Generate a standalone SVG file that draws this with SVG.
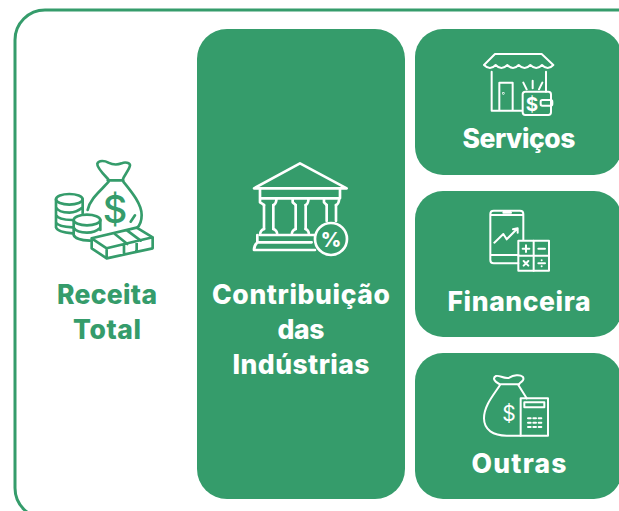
<svg xmlns="http://www.w3.org/2000/svg" width="619" height="511" viewBox="0 0 619 511">
<style>
.card{fill:#359c6b}
.lbl{font-family:"Inter","Liberation Sans",sans-serif;font-weight:800;font-size:26.5px;text-anchor:middle}
.w{fill:#fff}.g{fill:#359c6b}
.ic{fill:none;stroke-linecap:round;stroke-linejoin:round}
.iw{stroke:#fff}.ig{stroke:#359c6b}
.sym{font-family:"Inter","Liberation Sans",sans-serif;text-anchor:middle}
</style>
<rect width="619" height="511" fill="#fff"/>
<rect id="frame" x="15" y="10" width="640" height="508" rx="30" fill="none" stroke="#359c6b" stroke-width="3"/>

<g id="receita">
<g class="ic ig" stroke-width="8" transform="translate(40 150) scale(.3333)">
<path d="M205 88C190 72 170 52 172 41C176 30 195 32 205 38Q225 48 245 40C255 35 270 38 270 46C268 60 252 75 248 90M203 91H250"/>
<path d="M206 95C185 120 150 145 143 180M250 95C270 120 305 160 305 195C305 215 298 228 290 235M285 196L272 215"/>
<ellipse cx="88" cy="148" rx="40" ry="16"/>
<path d="M48 148V232Q52 246 98 250M128 148V190M48 172Q55 188 88 188Q110 188 128 172M48 195Q55 209 96 210M48 218Q55 230 98 232"/>
<ellipse cx="141" cy="210" rx="40" ry="16"/>
<path d="M101 210V255Q106 270 150 272M181 210V240M101 233Q110 248 141 248Q165 248 181 233"/>
<path d="M155 265L290 233L338 262L200 295ZM155 265V295L200 325L338 295V262M200 295V325M222 250L262 282M262 242L302 272M252 284V314M290 274V304" fill="#fff"/>
</g>
<text class="sym" x="115" y="223" font-size="38" font-weight="500" fill="#359c6b">$</text>
<text class="lbl g" x="107" y="304" textLength="100">Receita</text>
<text class="lbl g" x="107" y="339" textLength="68">Total</text>
</g>

<g id="contribuicao">
<rect class="card" x="197" y="29" width="208" height="470" rx="30"/>
<g class="ic iw" stroke-width="8" transform="translate(240 155) scale(.3333)">
<path d="M42 100L180 25L320 100ZM60 104V130H300V104M60 130V142Q70 148 72 150M100 150Q108 148 110 130M158 130V142Q166 148 167 150M197 150Q204 148 206 130M252 130V142Q258 148 260 150M288 150Q296 148 298 130"/>
<path d="M72 150V222M100 150V222M167 150V222M197 150V222M260 150V198M288 150V198"/>
<path d="M72 222Q60 226 60 240H112Q112 226 100 222M167 222Q155 226 155 240H207Q207 226 197 222M112 240H155M60 240H225M52 262H215M52 240V262M42 285H225M52 262Q42 272 42 285"/>
<circle cx="273" cy="252" r="48"/>
</g>
<text class="sym" x="331" y="247" font-size="20" font-weight="800" fill="#fff">%</text>
<text class="lbl w" x="301" y="304" textLength="178">Contribuição</text>
<text class="lbl w" x="301" y="339" textLength="47">das</text>
<text class="lbl w" x="301" y="374" textLength="137">Indústrias</text>
</g>

<g id="servicos">
<rect class="card" x="415" y="29" width="207" height="146" rx="28"/>
<g class="ic iw" stroke-width="6" transform="translate(470 40) scale(.3333)">
<path d="M75 42H215L250 75Q233 93 216 75Q199 93 181 75Q164 93 146 75Q129 93 112 75Q94 93 77 75Q60 93 42 75Z"/>
<path d="M65 95V212H155M228 95V155M88 212V128H128V212M160 128L170 148M188 122V145M217 128L207 148"/>
<rect x="158" y="155" width="85" height="70" rx="8"/>
<rect x="212" y="180" width="35" height="17" rx="5"/>
<circle cx="100" cy="160" r="1"/>
</g>
<text class="sym" x="532" y="111" font-size="19" font-weight="700" fill="#fff">$</text>
<text class="lbl w" x="519" y="148" textLength="113">Serviços</text>
</g>

<g id="financeira">
<rect class="card" x="415" y="191" width="207" height="146" rx="28"/>
<g class="ic iw" stroke-width="6" transform="translate(475 200) scale(.3333)">
<path d="M130 190H56Q46 190 46 180V42Q46 32 56 32H135Q145 32 145 42V120M50 45H142M85 38H108M50 165H130M58 128L85 102L95 118L125 88M114 88L128 85V98"/>
<rect x="130" y="122" width="92" height="90"/>
<path d="M176 122V212M130 167H222M143 146H163M153 136V156M190 146H210M146 183L160 197M160 183L146 197M190 190H210M200 181V181M200 199V199"/>
</g>
<text class="lbl w" x="519" y="311" textLength="143">Financeira</text>
</g>

<g id="outras">
<rect class="card" x="415" y="353" width="207" height="146" rx="28"/>
<g class="ic iw" stroke-width="6" transform="translate(470 365) scale(.3333)">
<path d="M90 58C70 48 68 38 78 33C90 30 100 42 118 38C130 30 150 28 158 35C165 45 155 50 145 58M88 58H148M90 60C75 85 42 120 42 160C42 195 70 212 110 212H152M145 60L170 100"/>
<rect x="152" y="100" width="82" height="112"/>
<rect x="163" y="112" width="60" height="15"/>
<path d="M174 160H182M190 160H198M206 160H214M174 173H182M190 173H198M206 173H214M174 186H182M190 186H198M206 186H214"/>
</g>
<text class="sym" x="509" y="421" font-size="21" font-weight="400" fill="#fff">$</text>
<text class="lbl w" x="519" y="473" textLength="95">Outras</text>
</g>
</svg>
